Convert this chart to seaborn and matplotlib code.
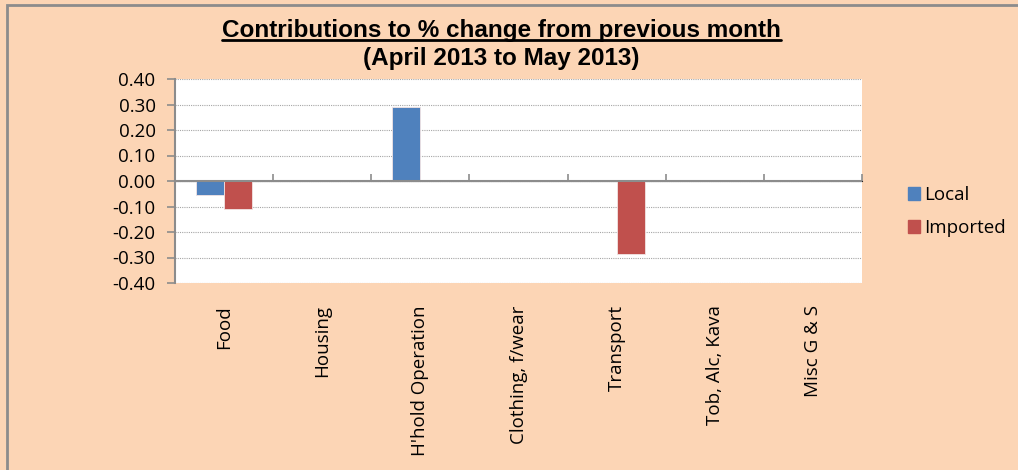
import pandas as pd
import seaborn as sns
import matplotlib.pyplot as plt
from matplotlib.patches import Rectangle
from matplotlib.lines import Line2D

categories = ["Food", "Housing", "H'hold Operation", "Clothing, f/wear",
              "Transport", "Tob, Alc, Kava", "Misc G & S"]
local = [-0.055, 0.0, 0.29, 0.0, 0.0, 0.0, 0.0]
imported = [-0.11, 0.0, 0.005, 0.0, -0.285, 0.0, 0.0]
series = ["Local", "Imported"]
yticks = [-0.40, -0.30, -0.20, -0.10, 0.00, 0.10, 0.20, 0.30, 0.40]

df = pd.DataFrame({
    "category": categories * 2,
    "series": ["Local"] * len(categories) + ["Imported"] * len(categories),
    "value": local + imported,
})

BG = "#FCD5B5"
COLORS = ["#4F81BD", "#C0504D"]
sns.set_style("white")
plt.rcParams["font.family"] = ["Open Sans", "DejaVu Sans"]
plt.rcParams["text.color"] = "black"
plt.rcParams["xtick.color"] = "black"
plt.rcParams["ytick.color"] = "black"

fig = plt.figure(figsize=(10.18, 4.7), dpi=100, facecolor=BG)
ax = fig.add_axes([175 / 1018, 1 - 283 / 470, 687 / 1018, 204 / 470])
ax.set_facecolor("white")

sns.barplot(data=df, x="category", y="value", hue="series", hue_order=series,
            palette=COLORS, saturation=1, width=0.57, ax=ax,
            edgecolor="#F2E4E4", linewidth=0.6, legend=True)

ax.set_ylim(-0.40, 0.40)
ax.set_xlim(-0.5, len(categories) - 0.5)
ax.set_yticks(yticks)
ax.set_yticklabels([f"{v:.2f}" for v in yticks], fontsize=13.5)
ax.yaxis.grid(True, linestyle=(0, (1, 1)), color="#A6A6A6", linewidth=0.8)
ax.set_axisbelow(True)
ax.set_xlabel("")
ax.set_ylabel("")

for s in ["top", "right", "bottom"]:
    ax.spines[s].set_visible(False)
ax.spines["left"].set_color("#8C8C8C")
ax.spines["left"].set_linewidth(1.5)
ax.tick_params(axis="y", left=True, length=6, color="#8C8C8C", width=1.2, pad=8,
               labelcolor="black")
ax.tick_params(axis="x", bottom=False, length=0, pad=16, labelcolor="black")
ax.set_xticks(range(len(categories)))
ax.set_xticklabels(categories, rotation=90, fontsize=13.5, va="top")

# horizontal axis at zero with boundary ticks
ax.axhline(0, color="#8C8C8C", linewidth=1.5, zorder=1)
sec = ax.secondary_xaxis(0.5)
sec.set_xticks([i + 0.5 for i in range(-1, len(categories))])
sec.set_xticklabels([])
sec.spines["bottom"].set_visible(False)
sec.tick_params(axis="x", direction="out", length=5, color="#8C8C8C", width=1.2)

# legend
ax.legend_.remove()
handles = [Rectangle((0, 0), 1, 1, color=c) for c in COLORS]
fig.legend(handles, series, loc="center left", bbox_to_anchor=(0.875, 0.55),
           frameon=False, fontsize=13.5, handlelength=0.65, handleheight=0.65,
           handletextpad=0.25, labelspacing=0.8)

# title with underlined first line
t1 = fig.text(0.4925, 1 - 31 / 470, "Contributions to % change from previous month",
              ha="center", va="center", fontsize=17.5, fontweight="bold",
              family="Liberation Sans", color="black")
fig.text(0.4925, 1 - 59 / 470, "(April 2013 to May 2013)", ha="center", va="center",
         fontsize=17.5, fontweight="bold", family="Liberation Sans", color="black")
fig.canvas.draw()
bb = t1.get_window_extent().transformed(fig.transFigure.inverted())
fig.add_artist(Line2D([bb.x0, bb.x1], [bb.y0 + 0.006, bb.y0 + 0.006],
                      transform=fig.transFigure, color="black", linewidth=2))

# outer frame
fig.add_artist(Rectangle((7 / 1018, -0.01), 1.02, 1 - 5 / 470 + 0.01,
                         transform=fig.transFigure, fill=False,
                         edgecolor="#8C8C8C", linewidth=2))

fig.savefig("out.png", dpi=100, facecolor=BG)
